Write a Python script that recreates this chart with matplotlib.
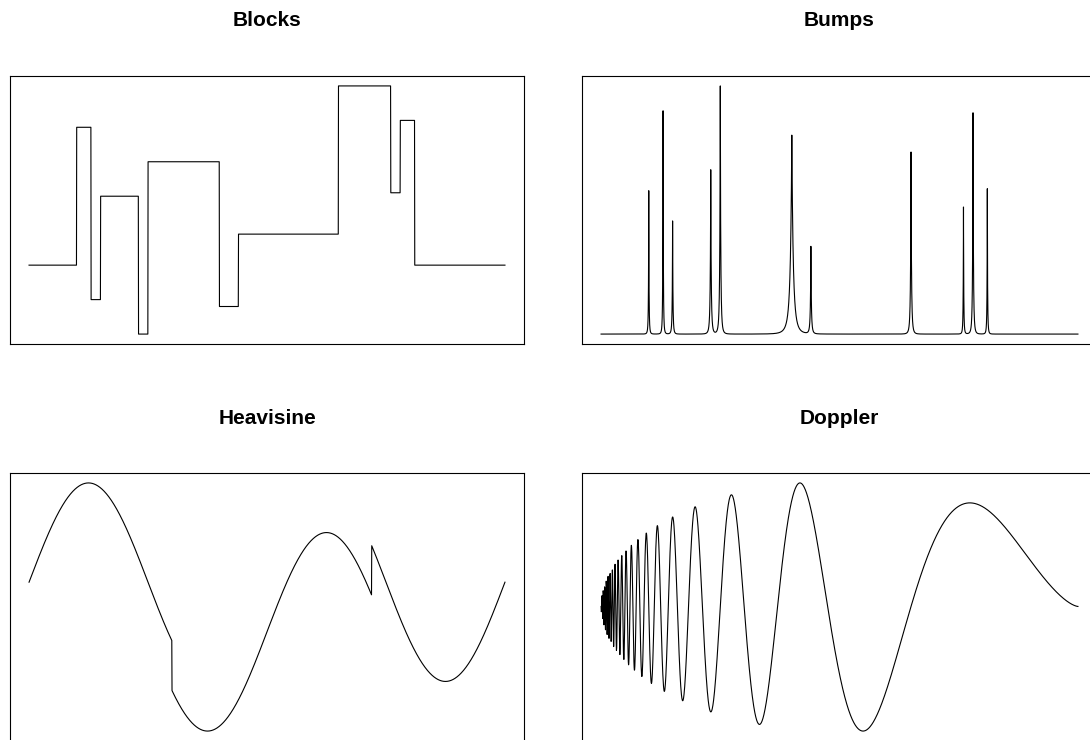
import numpy as np
import matplotlib
matplotlib.use("Agg")
import matplotlib.pyplot as plt

plt.rcParams['font.family'] = ['Liberation Sans', 'DejaVu Sans']

# Donoho-Johnstone style test signals
jump_pos = [0.10, 0.13, 0.15, 0.23, 0.25, 0.40, 0.44, 0.65, 0.76, 0.78, 0.81]
block_heights = [4, -5, 3, -4, 5, -4.2, 2.1, 4.3, -3.1, 2.1, -4.2]
# bump peak heights (tallest = 5)
bump_heights = [2.89, 4.50, 2.28, 3.31, 5.0, 4.01, 1.76, 3.67, 2.56, 4.46, 2.93]
bump_widths = [0.002, 0.002, 0.0025, 0.0035, 0.0035, 0.011, 0.0035, 0.0035, 0.002, 0.003, 0.002]
heavi_amp = 4.0
heavi_breaks = [0.30, 0.72]
doppler_eps = 0.05
n_points = 2048

t = np.linspace(0, 1, n_points)
tb = np.union1d(np.linspace(0, 1, 8192), jump_pos)

blocks = np.zeros_like(t)
for tj, hj in zip(jump_pos, block_heights):
    blocks += hj * (1 + np.sign(t - tj)) / 2

bumps = np.zeros_like(tb)
for tj, hj, wj in zip(jump_pos, bump_heights, bump_widths):
    bumps += hj * (1 + np.abs((tb - tj) / wj)) ** -4

heavisine = (heavi_amp * np.sin(4 * np.pi * t)
             - np.sign(t - heavi_breaks[0]) - np.sign(heavi_breaks[1] - t))

doppler = np.sqrt(t * (1 - t)) * np.sin(2 * np.pi * (1 + doppler_eps) / (t + doppler_eps))

signals = [("Blocks", t, blocks), ("Bumps", tb, bumps),
           ("Heavisine", t, heavisine), ("Doppler", t, doppler)]

W, H = 1090, 740
fig = plt.figure(figsize=(W / 100, H / 100), dpi=100)

# pixel boxes: left, top, width, height, title centre y
boxes = [(10, 76, 514, 268, 21), (582, 76, 515, 268, 21),
         (10, 473, 514, 268, 418), (582, 473, 515, 268, 418)]

for (name, x, y), (px, py, pw, ph, ty) in zip(signals, boxes):
    ax = fig.add_axes([px / W, 1 - (py + ph) / H, pw / W, ph / H])
    ax.plot(x, y, color="black", lw=0.8)
    ax.margins(x=0.04, y=0.04)
    ax.set_xticks([])
    ax.set_yticks([])
    for s in ax.spines.values():
        s.set_linewidth(0.8)
    fig.text((px + pw / 2) / W, 1 - ty / H, name, ha="center", va="center",
             fontsize=15, fontweight="bold")

fig.savefig("out.png", dpi=100)
